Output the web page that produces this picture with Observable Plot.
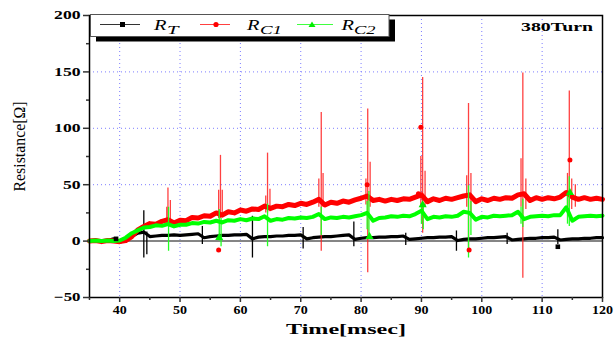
<!DOCTYPE html>
<html><head><meta charset="utf-8">
<script src="https://cdn.jsdelivr.net/npm/d3@7"></script>
<script src="https://cdn.jsdelivr.net/npm/@observablehq/plot@0.6"></script>
<style>
html,body{margin:0;padding:0;background:#fff;}
#wrap{position:relative;width:614px;height:345px;overflow:hidden;}
#wrap svg text{font-family:"Liberation Serif","Times New Roman",serif;}
#legend{position:absolute;left:0;top:0;pointer-events:none;}
</style></head><body>
<div id="wrap"></div>
<script>
// ---- data ----
const times = [35,36,37,38,39,40,41,42,43,44,45,46,47,48,49,50,51,52,53,54,55,56,57,58,59,60,61,62,63,64,65,66,67,68,69,70,71,72,73,74,75,76,77,78,79,80,81,82,83,84,85,86,87,88,89,90,91,92,93,94,95,96,97,98,99,100,101,102,103,104,105,106,107,108,109,110,111,112,113,114,115,116,117,118,119,120];
const rT  = [0,0.5,0,0.5,2,-1,1,4,7,8,4,4.5,5,5,5.5,5,5.5,6,6.5,3,4,4.5,5,5,5.5,5.5,6,2,3.5,4,4,4.5,4.5,5,5,5.5,2,3,3.5,4,4,4.5,5,5.5,1.5,2.5,3,3,3.5,3.5,4,4,4.5,1.5,2,2.5,3,3,3.5,3.5,4,0.5,1.5,2,2,2.5,3,3,3.5,4,1,1.5,2,2.5,2.5,3,3,3.5,1,1.5,2,2,2.5,2.5,3,3];
const rC1 = [0,0.5,-0.5,0.5,0,-0.5,0.5,4,10,13,15.5,15,17.5,19,16,18.5,18,21,20.5,22.5,22,25,23,26,25,27.5,26.5,28.5,28,31,29,31,30.5,32.5,31.5,33.5,32.5,34.5,37,32,34.5,33.5,35.5,34.5,36.5,38,40,36,37,35.5,37,36,37.5,37,39,41,35,37.5,36,38,37,38.5,40,41,35,37.5,36,38,37,38.5,38,41,42,36,38.5,37,38.5,37.5,39,43,39,37,38.5,37,38,37];
const rC2 = [0,0.5,0,0.5,0,0.5,3,7,9.5,12,12.5,14,13.5,15,13,14.5,14.5,16,15.5,17,16.5,18,16.5,18.5,18,19.5,18.5,20,19.5,22,18,19.5,19,20.5,20,21,20.5,21.5,24,19.5,21,20.5,21.5,21,22,23,25,18,20.5,21,22,21.5,22.5,22,24,27,19.5,21.5,21,22,21.5,22.5,26,25,19,21.5,21,22.5,22,22.5,23,26,19.5,21.5,22,22.5,22,23,23,30,18,21.5,22,22.5,22,22.5];

// spikes: [time, high, low]
const spikesT  = [[44.0,27,-15],[44.5,8,-12],[53.7,13,-3],[62.0,22,-15],[70.4,12,-7],[78.8,17,-5],[87.4,7,-4],[95.8,9,-9],[104.2,7,-3],[112.6,10,-3]];
const spikesC1 = [[47.8,30,15],[48.0,47,14],[48.4,36,16],[56.4,45,20],[56.7,76,20],[57.0,45,22],[64.2,40,25],[64.5,78,25],[64.9,46,26],[73.0,55,30],[73.4,114,-9],[73.7,60,30],[80.8,55,32],[81.1,117,-28],[81.5,70,30],[89.9,75,30],[90.2,145,7],[90.6,62,30],[97.5,58,30],[97.8,122,-8],[98.2,60,25],[106.5,73,30],[106.8,149,-33],[107.3,55,28],[114.2,60,30],[114.5,133,30],[114.9,55,28],[115.5,50,30]];
const spikesC2 = [[48.1,30,-9],[56.5,28,0],[56.8,20,-5],[64.5,33,-5],[73.4,30,5],[81.0,35,10],[81.3,44,3],[90.0,33,15],[90.3,30,10],[97.8,49,-15],[98.2,35,5],[106.5,30,15],[106.8,37,12],[114.2,40,15],[114.5,57,13]];

// symbol markers: [time, value]
const markT  = [[39.4,2],[112.6,-5]];
const markC1 = [[56.4,-8],[81.0,50],[89.5,42],[89.9,101],[97.9,-8],[114.6,72]];
const markC2 = [[56.5,3],[81.4,4],[90.2,32],[114.6,43]];

// axes
const xMajor = [40,50,60,70,80,90,100,110,120];
const xMinor = [35,45,55,65,75,85,95,105,115];
const yMajor = [-50,0,50,100,150,200];
const yMinor = [-25,25,75,125,175];
const xGrid = [40,50,60,70,80,90,100,110];
const yGrid = [50,100,150];

const FONT = "Liberation Serif";
const series = (vals) => times.map((t, i) => ({t, v: vals[i]}));

const chart = Plot.plot({
  width: 614, height: 345,
  marginLeft: 89, marginRight: 12, marginTop: 15, marginBottom: 48,
  x: {domain: [35, 120]},
  y: {domain: [-50, 200]},
  style: {fontFamily: FONT, fontSize: "12px", background: "#fff", overflow: "visible"},
  marks: [
    Plot.ruleX(xGrid, {stroke: "#7d7dff", strokeDasharray: "1,3", strokeWidth: 1}),
    Plot.ruleY(yGrid, {stroke: "#7d7dff", strokeDasharray: "1,3", strokeWidth: 1}),
    Plot.ruleY([0], {stroke: "#858585", strokeWidth: 2}),
    Plot.ruleX(spikesT, {x: d => d[0], y1: d => d[1], y2: d => d[2], stroke: "#000", strokeWidth: 1.3}),
    Plot.line(series(rT), {x: "t", y: "v", stroke: "#000", strokeWidth: 3.2}),
    Plot.ruleX(spikesC1, {x: d => d[0], y1: d => d[1], y2: d => d[2], stroke: "#ff2020", strokeOpacity: 0.85, strokeWidth: 1.3}),
    Plot.line(series(rC1), {x: "t", y: "v", stroke: "#ff0000", strokeWidth: 5}),
    Plot.ruleX(spikesC2, {x: d => d[0], y1: d => d[1], y2: d => d[2], stroke: "#22ff22", strokeWidth: 1.3}),
    Plot.line(series(rC2), {x: "t", y: "v", stroke: "#00ff00", strokeWidth: 4}),
    Plot.dot(markT, {x: d => d[0], y: d => d[1], symbol: "square", r: 2.6, fill: "#000"}),
    Plot.dot(markC1, {x: d => d[0], y: d => d[1], symbol: "circle", r: 2.5, fill: "#ff0000"}),
    Plot.dot(markC2, {x: d => d[0], y: d => d[1], symbol: "triangle", r: 3, fill: "#00ee00"}),
    Plot.frame({stroke: "#000", strokeWidth: 1.5}),
    Plot.axisX(xMajor, {tickSize: 5, tickPadding: 3, stroke: "#333", strokeWidth: 1.5, fontFamily: FONT, fontWeight: "bold", fontSize: 12, label: null}),
    Plot.axisX(xMinor, {tickSize: 3, tickFormat: () => "", stroke: "#333", strokeWidth: 1.5, label: null}),
    Plot.axisY(yMajor, {tickSize: 6, tickPadding: 3, stroke: "#333", strokeWidth: 1.5, fontFamily: FONT, fontWeight: "bold", fontSize: 12, label: null}),
    Plot.axisY(yMinor, {tickSize: 3, tickFormat: () => "", stroke: "#333", strokeWidth: 1.5, label: null}),
    Plot.text(["Time[msec]"], {frameAnchor: "bottom", dy: 36, fontFamily: FONT, fontWeight: "bold", fontSize: 14, fill: "#000"}),
    Plot.text(["Resistance[Ω]"], {frameAnchor: "left", textAnchor: "middle", dx: -70, dy: -10, rotate: -90, fontFamily: FONT, fontSize: 16, fill: "#000"})
  ]
});

const wrap = document.getElementById("wrap");
wrap.appendChild(chart);

// horizontal stretching of horizontal texts, as in the reference picture
d3.select(chart).selectAll('g[aria-label="x-axis tick label"] text').each(function () {
  const s = this.textContent.trim();
  if (s) { this.setAttribute("textLength", s.length * 7); this.setAttribute("lengthAdjust", "spacingAndGlyphs"); }
});
d3.select(chart).selectAll('g[aria-label="y-axis tick label"] text').each(function () {
  const s = this.textContent.trim();
  if (s) { this.setAttribute("textLength", s.length * 8.8); this.setAttribute("lengthAdjust", "spacingAndGlyphs"); }
});
d3.select(chart).selectAll('g[aria-label="text"] text').each(function () {
  if (this.textContent === "Time[msec]") { this.setAttribute("textLength", 120); this.setAttribute("lengthAdjust", "spacingAndGlyphs"); }
  if (this.textContent === "Resistance[Ω]") { this.style.fontSize = "16px"; this.setAttribute("textLength", 90); this.setAttribute("lengthAdjust", "spacingAndGlyphs"); }
});

// legend + annotation overlay
const NS = "http://www.w3.org/2000/svg";
const lg = document.createElementNS(NS, "svg");
lg.setAttribute("id", "legend"); lg.setAttribute("width", 614); lg.setAttribute("height", 345);
lg.innerHTML = `
<rect x="96" y="19.5" width="299" height="22" fill="#000"/>
<rect x="90.5" y="14.5" width="298.5" height="22" fill="#fff" stroke="#555" stroke-width="1"/>
<line x1="100" x2="140" y1="24.5" y2="24.5" stroke="#333" stroke-width="1"/>
<rect x="120" y="22" width="5" height="5" fill="#000"/>
<text x="154" y="29.5" font-style="italic" font-size="15" textLength="12.5" lengthAdjust="spacingAndGlyphs">R</text>
<text x="167" y="34" font-style="italic" font-size="12" textLength="11.5" lengthAdjust="spacingAndGlyphs">T</text>
<line x1="200" x2="230" y1="24.5" y2="24.5" stroke="#ff4040" stroke-width="1"/>
<circle cx="216" cy="24.5" r="2.6" fill="#ff0000"/>
<text x="247" y="29.5" font-style="italic" font-size="15" textLength="12.5" lengthAdjust="spacingAndGlyphs">R</text>
<text x="260" y="34" font-style="italic" font-size="12" textLength="22" lengthAdjust="spacingAndGlyphs">C1</text>
<line x1="297" x2="333" y1="24.5" y2="24.5" stroke="#40ff40" stroke-width="1"/>
<path d="M312,21.5 L315.5,27 L308.5,27 Z" fill="#00ee00"/>
<text x="341.5" y="29.5" font-style="italic" font-size="15" textLength="12.5" lengthAdjust="spacingAndGlyphs">R</text>
<text x="354" y="34" font-style="italic" font-size="12" textLength="21.5" lengthAdjust="spacingAndGlyphs">C2</text>
<text x="521" y="31" font-weight="bold" font-size="13" textLength="72" lengthAdjust="spacingAndGlyphs">380Turn</text>
`;
wrap.appendChild(lg);
</script>
</body></html>
